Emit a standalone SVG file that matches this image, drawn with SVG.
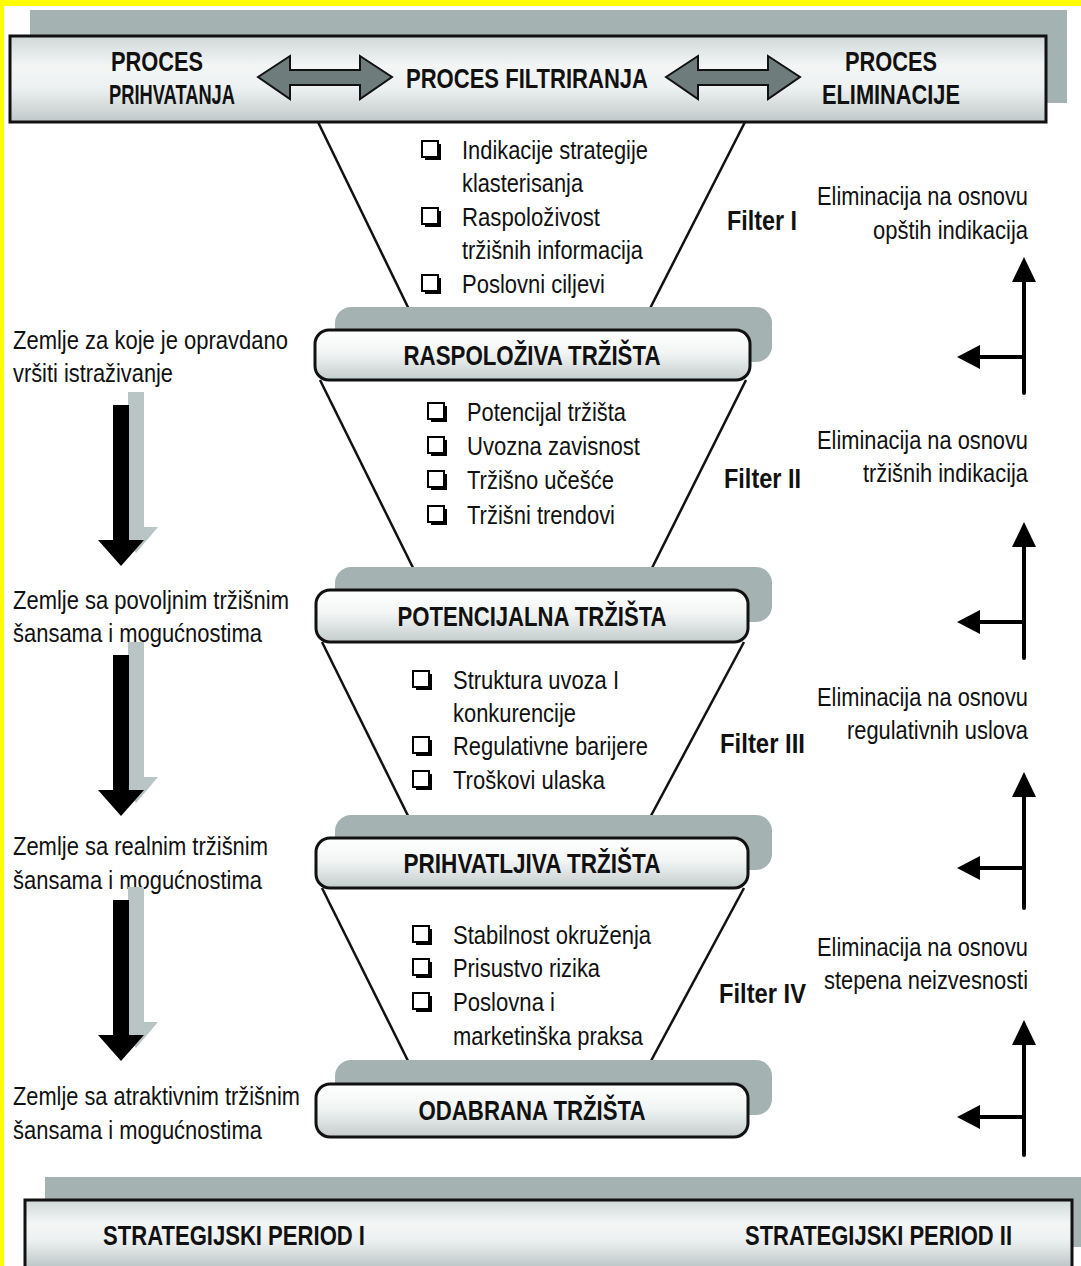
<svg xmlns="http://www.w3.org/2000/svg" width="1081" height="1266" viewBox="0 0 1081 1266">
  <style>
    .t { font-family: "Liberation Sans", Arial, sans-serif; font-size: 25px; fill: #111; }
    .b { font-family: "Liberation Sans", Arial, sans-serif; font-size: 28px; font-weight: bold; fill: #111; }
    .m { text-anchor: middle; }
    .e { text-anchor: end; }
    .shadow { fill: #a4b2b1; }
    .band { fill: url(#silver); stroke: #111; stroke-width: 3; }
    .bandFill { fill: url(#silver); }
    .edge { fill: none; stroke: #111; stroke-width: 3; }
    .market { fill: url(#pill); stroke: #111; stroke-width: 3; }
    .funnel { fill: none; stroke: #111; stroke-width: 2.5; }
    .dbl { fill: #6e7d7c; stroke: #111; stroke-width: 2; stroke-linejoin: miter; }
    .elim { fill: none; stroke: #000; stroke-width: 4; stroke-linecap: round; }
    .head { fill: #000; }
    .flow { fill: #000; }
    .flowShadow { fill: #b9c5c5; }
  </style>
  <defs>
    <linearGradient id="silver" x1="0" y1="0" x2="0" y2="1">
      <stop offset="0" stop-color="#cfd7d7"/>
      <stop offset="0.35" stop-color="#f4f6f6"/>
      <stop offset="0.6" stop-color="#eef1f1"/>
      <stop offset="1" stop-color="#bfc9c9"/>
    </linearGradient>
    <linearGradient id="pill" x1="0" y1="0" x2="0" y2="1">
      <stop offset="0" stop-color="#ffffff"/>
      <stop offset="0.45" stop-color="#f3f5f5"/>
      <stop offset="1" stop-color="#c3cccc"/>
    </linearGradient>
    <g id="box">
      <rect x="3" y="3" width="16" height="16" fill="#000"/>
      <rect x="0" y="0" width="16" height="16" fill="#fff" stroke="#000" stroke-width="2"/>
    </g>
    <g id="downArrow">
      <polygon class="flowShadow" points="128,-13 144,-13 144,122 158,122 136,148 114,122 128,122"/>
      <polygon class="flow" points="113,0 129,0 129,135 144,135 121,161 98,135 113,135"/>
    </g>
  </defs>

  <!-- page background and edge strips -->
  <rect x="0" y="0" width="1081" height="1266" fill="#ffffff"/>
  <rect x="0" y="0" width="1081" height="6" fill="#ffff00"/>
  <rect x="0" y="0" width="4" height="1266" fill="#ffff00"/>

  <!-- header band -->
  <g id="header">
    <rect class="shadow" x="30" y="10" width="1037" height="93"/>
    <rect class="band" x="10" y="36" width="1036" height="86"/>
    <text class="b m" x="157" y="71" textLength="92" lengthAdjust="spacingAndGlyphs">PROCES</text>
    <text class="b m" x="172" y="104" textLength="126" lengthAdjust="spacingAndGlyphs">PRIHVATANJA</text>
    <text class="b" x="406" y="88" textLength="242" lengthAdjust="spacingAndGlyphs">PROCES FILTRIRANJA</text>
    <text class="b m" x="891" y="71" textLength="92" lengthAdjust="spacingAndGlyphs">PROCES</text>
    <text class="b" x="822" y="104" textLength="138" lengthAdjust="spacingAndGlyphs">ELIMINACIJE</text>
    <polygon class="dbl" points="258,77 290,56 290,70 360,70 360,56 392,77 360,99 360,85 290,85 290,99"/>
    <polygon class="dbl" points="666,77 698,56 698,70 768,70 768,56 800,77 768,99 768,85 698,85 698,99"/>
  </g>

  <!-- funnel sides (connectors between market stages) -->
  <g id="connectors">
    <polyline class="funnel" points="318,122 420,332"/>
    <polyline class="funnel" points="745,122 638,332"/>
    <polyline class="funnel" points="320,380 425,592"/>
    <polyline class="funnel" points="746,380 640,592"/>
    <polyline class="funnel" points="322,642 420,840"/>
    <polyline class="funnel" points="744,642 638,840"/>
    <polyline class="funnel" points="322,888 420,1085"/>
    <polyline class="funnel" points="744,888 638,1085"/>
  </g>

  <!-- market stages -->
  <g id="stage-raspoloziva">
    <rect class="shadow" x="335" y="307" width="437" height="55" rx="16"/>
    <rect class="market" x="315" y="330" width="435" height="50" rx="14"/>
    <text class="b m" x="532" y="365" textLength="257" lengthAdjust="spacingAndGlyphs">RASPOLOŽIVA TRŽIŠTA</text>
  </g>
  <g id="stage-potencijalna">
    <rect class="shadow" x="335" y="567" width="437" height="55" rx="16"/>
    <rect class="market" x="316" y="590" width="432" height="52" rx="14"/>
    <text class="b m" x="532" y="626" textLength="269" lengthAdjust="spacingAndGlyphs">POTENCIJALNA TRŽIŠTA</text>
  </g>
  <g id="stage-prihvatljiva">
    <rect class="shadow" x="335" y="815" width="437" height="55" rx="16"/>
    <rect class="market" x="316" y="838" width="432" height="50" rx="14"/>
    <text class="b m" x="532" y="873" textLength="257" lengthAdjust="spacingAndGlyphs">PRIHVATLJIVA TRŽIŠTA</text>
  </g>
  <g id="stage-odabrana">
    <rect class="shadow" x="335" y="1060" width="437" height="55" rx="16"/>
    <rect class="market" x="316" y="1084" width="432" height="53" rx="14"/>
    <text class="b m" x="532" y="1120" textLength="227" lengthAdjust="spacingAndGlyphs">ODABRANA TRŽIŠTA</text>
  </g>

  <!-- filter I -->
  <g id="filter-1">
    <use href="#box" x="422" y="141"/>
    <text class="t" x="462" y="159" textLength="186" lengthAdjust="spacingAndGlyphs">Indikacije strategije</text>
    <text class="t" x="462" y="192" textLength="121" lengthAdjust="spacingAndGlyphs">klasterisanja</text>
    <use href="#box" x="422" y="208"/>
    <text class="t" x="462" y="226" textLength="138" lengthAdjust="spacingAndGlyphs">Raspoloživost</text>
    <text class="t" x="462" y="259" textLength="181" lengthAdjust="spacingAndGlyphs">tržišnih informacija</text>
    <use href="#box" x="422" y="275"/>
    <text class="t" x="462" y="293" textLength="143" lengthAdjust="spacingAndGlyphs">Poslovni ciljevi</text>
    <text class="b" x="727" y="230" font-size="26" textLength="70" lengthAdjust="spacingAndGlyphs">Filter I</text>
  </g>

  <!-- filter II -->
  <g id="filter-2">
    <use href="#box" x="428" y="403"/>
    <text class="t" x="467" y="421" textLength="159" lengthAdjust="spacingAndGlyphs">Potencijal tržišta</text>
    <use href="#box" x="428" y="437"/>
    <text class="t" x="467" y="455" textLength="173" lengthAdjust="spacingAndGlyphs">Uvozna zavisnost</text>
    <use href="#box" x="428" y="471"/>
    <text class="t" x="467" y="489" textLength="147" lengthAdjust="spacingAndGlyphs">Tržišno učešće</text>
    <use href="#box" x="428" y="506"/>
    <text class="t" x="467" y="524" textLength="148" lengthAdjust="spacingAndGlyphs">Tržišni trendovi</text>
    <text class="b" x="724" y="488" font-size="26" textLength="77" lengthAdjust="spacingAndGlyphs">Filter II</text>
  </g>

  <!-- filter III -->
  <g id="filter-3">
    <use href="#box" x="413" y="671"/>
    <text class="t" x="453" y="689" textLength="166" lengthAdjust="spacingAndGlyphs">Struktura uvoza I</text>
    <text class="t" x="453" y="722" textLength="123" lengthAdjust="spacingAndGlyphs">konkurencije</text>
    <use href="#box" x="413" y="737"/>
    <text class="t" x="453" y="755" textLength="195" lengthAdjust="spacingAndGlyphs">Regulativne barijere</text>
    <use href="#box" x="413" y="771"/>
    <text class="t" x="453" y="789" textLength="152" lengthAdjust="spacingAndGlyphs">Troškovi ulaska</text>
    <text class="b" x="720" y="753" font-size="26" textLength="85" lengthAdjust="spacingAndGlyphs">Filter III</text>
  </g>

  <!-- filter IV -->
  <g id="filter-4">
    <use href="#box" x="413" y="926"/>
    <text class="t" x="453" y="944" textLength="198" lengthAdjust="spacingAndGlyphs">Stabilnost okruženja</text>
    <use href="#box" x="413" y="959"/>
    <text class="t" x="453" y="977" textLength="147" lengthAdjust="spacingAndGlyphs">Prisustvo rizika</text>
    <use href="#box" x="413" y="993"/>
    <text class="t" x="453" y="1011" textLength="102" lengthAdjust="spacingAndGlyphs">Poslovna i</text>
    <text class="t" x="453" y="1045" textLength="190" lengthAdjust="spacingAndGlyphs">marketinška praksa</text>
    <text class="b" x="719" y="1003" font-size="26" textLength="87" lengthAdjust="spacingAndGlyphs">Filter IV</text>
  </g>

  <!-- left column: countries kept at each stage -->
  <g id="left-1">
    <text class="t" x="13" y="349" textLength="275" lengthAdjust="spacingAndGlyphs">Zemlje za koje je opravdano</text>
    <text class="t" x="13" y="382" textLength="160" lengthAdjust="spacingAndGlyphs">vršiti istraživanje</text>
  </g>
  <g id="left-2">
    <text class="t" x="13" y="609" textLength="276" lengthAdjust="spacingAndGlyphs">Zemlje sa povoljnim tržišnim</text>
    <text class="t" x="13" y="642" textLength="249" lengthAdjust="spacingAndGlyphs">šansama i mogućnostima</text>
  </g>
  <g id="left-3">
    <text class="t" x="13" y="855" textLength="255" lengthAdjust="spacingAndGlyphs">Zemlje sa realnim tržišnim</text>
    <text class="t" x="13" y="889" textLength="249" lengthAdjust="spacingAndGlyphs">šansama i mogućnostima</text>
  </g>
  <g id="left-4">
    <text class="t" x="13" y="1105" textLength="287" lengthAdjust="spacingAndGlyphs">Zemlje sa atraktivnim tržišnim</text>
    <text class="t" x="13" y="1139" textLength="249" lengthAdjust="spacingAndGlyphs">šansama i mogućnostima</text>
  </g>

  <!-- downward flow arrows -->
  <g id="flow-arrows">
    <use href="#downArrow" x="0" y="405"/>
    <use href="#downArrow" x="0" y="655"/>
    <use href="#downArrow" x="0" y="900"/>
  </g>

  <!-- right column: elimination criteria -->
  <g id="right-1">
    <text class="t e" x="1028" y="205" textLength="211" lengthAdjust="spacingAndGlyphs">Eliminacija na osnovu</text>
    <text class="t e" x="1028" y="239" textLength="155" lengthAdjust="spacingAndGlyphs">opštih indikacija</text>
  </g>
  <g id="right-2">
    <text class="t e" x="1028" y="449" textLength="211" lengthAdjust="spacingAndGlyphs">Eliminacija na osnovu</text>
    <text class="t e" x="1028" y="482" textLength="165" lengthAdjust="spacingAndGlyphs">tržišnih indikacija</text>
  </g>
  <g id="right-3">
    <text class="t e" x="1028" y="706" textLength="211" lengthAdjust="spacingAndGlyphs">Eliminacija na osnovu</text>
    <text class="t e" x="1028" y="739" textLength="181" lengthAdjust="spacingAndGlyphs">regulativnih uslova</text>
  </g>
  <g id="right-4">
    <text class="t e" x="1028" y="956" textLength="211" lengthAdjust="spacingAndGlyphs">Eliminacija na osnovu</text>
    <text class="t e" x="1028" y="989" textLength="204" lengthAdjust="spacingAndGlyphs">stepena neizvesnosti</text>
  </g>

  <!-- elimination arrows -->
  <g id="elimination-arrows">
    <g id="elim-1">
      <line class="elim" x1="1024" y1="393" x2="1024" y2="275"/>
      <line class="elim" x1="1024" y1="357" x2="972" y2="357"/>
      <polygon class="head" points="1024,257 1036,282 1012,282"/>
      <polygon class="head" points="957,357 980,345 980,369"/>
    </g>
    <g id="elim-2">
      <line class="elim" x1="1024" y1="658" x2="1024" y2="540"/>
      <line class="elim" x1="1024" y1="622" x2="972" y2="622"/>
      <polygon class="head" points="1024,522 1036,547 1012,547"/>
      <polygon class="head" points="957,622 980,610 980,634"/>
    </g>
    <g id="elim-3">
      <line class="elim" x1="1024" y1="908" x2="1024" y2="790"/>
      <line class="elim" x1="1024" y1="868" x2="972" y2="868"/>
      <polygon class="head" points="1024,772 1036,797 1012,797"/>
      <polygon class="head" points="957,868 980,856 980,880"/>
    </g>
    <g id="elim-4">
      <line class="elim" x1="1024" y1="1155" x2="1024" y2="1038"/>
      <line class="elim" x1="1024" y1="1117" x2="972" y2="1117"/>
      <polygon class="head" points="1024,1020 1036,1045 1012,1045"/>
      <polygon class="head" points="957,1117 980,1105 980,1129"/>
    </g>
  </g>

  <!-- footer band, open at the page bottom -->
  <g id="footer">
    <rect class="shadow" x="45" y="1177" width="1036" height="70"/>
    <rect class="bandFill" x="25" y="1200" width="1047" height="66"/>
    <polyline class="edge" points="25,1266 25,1200 1072,1200 1072,1266"/>
    <text class="b" x="103" y="1245" font-size="23" textLength="262" lengthAdjust="spacingAndGlyphs">STRATEGIJSKI PERIOD I</text>
    <text class="b" x="745" y="1245" font-size="23" textLength="267" lengthAdjust="spacingAndGlyphs">STRATEGIJSKI PERIOD II</text>
  </g>
</svg>
